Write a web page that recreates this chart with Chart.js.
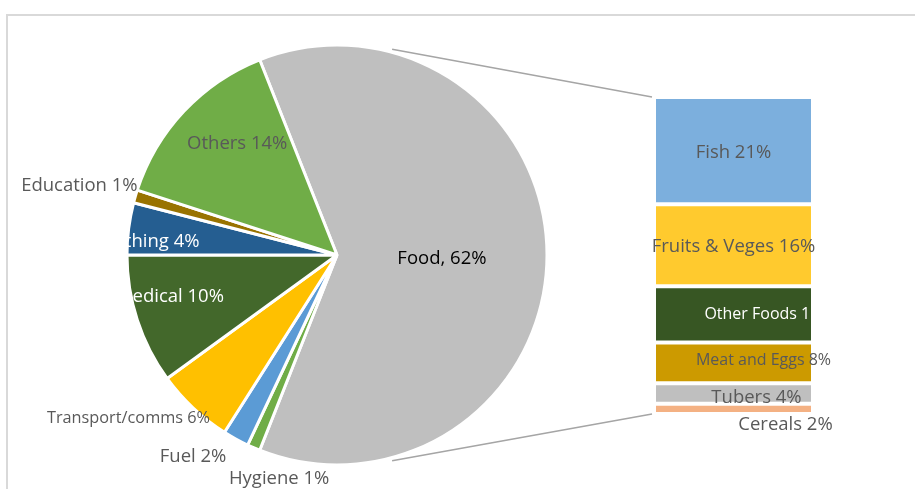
<!DOCTYPE html>
<html>
<head>
<meta charset="utf-8">
<script src="https://cdn.jsdelivr.net/npm/chart.js@4.4.1/dist/chart.umd.min.js"></script>
<style>
  html, body { margin: 0; padding: 0; background: #fff; overflow: hidden; }
  #wrap { position: relative; width: 915px; height: 489px; }
  #frame { position: absolute; left: 6px; top: 14px; width: 1000px; height: 600px; border: 2px solid #d9d9d9; box-sizing: border-box; }
  canvas { position: absolute; left: 0; top: 0; }
</style>
</head>
<body>
<div id="wrap">
  <div id="frame"></div>
  <canvas id="pieChart" width="915" height="489"></canvas>
  <canvas id="barChart" width="915" height="489"></canvas>
</div>
<script>
// pie: spending shares (%), Food first, then clockwise
const pieLabels = ["Food", "Hygiene", "Fuel", "Transport/comms", "Medical", "Clothing", "Education", "Others"];
const pieValues = [62, 1, 2, 6, 10, 4, 1, 14];
const pieColors = ["#bfbfbf", "#70ad47", "#5b9bd5", "#ffc000", "#43682b", "#255e91", "#997300", "#70ad47"];

// bar: breakdown of Food (% of total), top to bottom
const foodLabels = ["Fish", "Fruits & Veges", "Other Foods", "Meat and Eggs", "Tubers", "Cereals"];
const foodValues = [21, 16, 11, 8, 4, 2];
const foodColors = ["#7cafdd", "#ffca2e", "#375623", "#cc9a00", "#bfbfbf", "#f4b183"];

const GREY = "#595959";
const FONT = "'Open Sans', sans-serif";

// label placement for the pie: radius fraction + angle (deg, clockwise from top)
const pieLabelPos = [
  { r: 0.50, a: 91.8, color: "#000", size: 18.5, text: "Food, 62%" },
  { r: 1.10, a: 194.5, color: GREY, size: 18.5, text: "Hygiene 1%" },
  { r: 1.18, a: 215.5, color: GREY, size: 18.5, text: "Fuel 2%" },
  { r: 1.26, a: 232, color: GREY, size: 16.3, text: "Transport/comms 6%" },
  { r: 0.82, a: 256, color: "#fff", size: 18.5, text: "Medical 10%" },
  { r: 0.90, a: 274, color: "#fff", size: 18.5, text: "Clothing 4%" },
  { r: 1.27, a: 285, color: GREY, size: 18.5, text: "Education 1%" },
  { r: 0.71, a: 318, color: GREY, size: 18.5, text: "Others 14%" }
];

// bar label nudges from segment centre (px)
const barLabelPos = [
  { dx: 0, dy: 2, color: GREY, size: 18.5, text: "Fish 21%" },
  { dx: 0, dy: 1, color: GREY, size: 18.5, text: "Fruits & Veges 16%" },
  { dx: 35, dy: 0, color: "#fff", size: 16, text: "Other Foods 11%" },
  { dx: 30, dy: -2, color: GREY, size: 16, text: "Meat and Eggs 8%" },
  { dx: 23, dy: 4, color: GREY, size: 18.5, text: "Tubers 4%" },
  { dx: 52, dy: 16, color: GREY, size: 18.5, text: "Cereals 2%" }
];

const total = pieValues.reduce((a, b) => a + b, 0);
const foodShare = pieValues[0] / total;

const pieLabelPlugin = {
  id: "pieLabels",
  afterDatasetsDraw(chart) {
    const ctx = chart.ctx;
    const arc = chart.getDatasetMeta(0).data[0];
    ctx.save();
    ctx.textAlign = "center";
    ctx.textBaseline = "middle";
    pieLabelPos.forEach((p) => {
      const rad = (p.a * Math.PI) / 180;
      const x = arc.x + p.r * arc.outerRadius * Math.sin(rad);
      const y = arc.y - p.r * arc.outerRadius * Math.cos(rad);
      ctx.font = p.size + "px " + FONT;
      ctx.fillStyle = p.color;
      ctx.fillText(p.text, x, y);
    });
    ctx.restore();
  }
};

const pieChart = new Chart(document.getElementById("pieChart"), {
  type: "pie",
  data: {
    labels: pieLabels,
    datasets: [{
      data: pieValues,
      backgroundColor: pieColors,
      borderColor: "#fff",
      borderWidth: 3,
      radius: 210
    }]
  },
  options: {
    responsive: false,
    animation: false,
    rotation: 90 - foodShare * 180,
    layout: { padding: { left: 127, right: 368, top: 45, bottom: 24 } },
    plugins: { legend: { display: false }, tooltip: { enabled: false } }
  },
  plugins: [pieLabelPlugin]
});

// stack bottom-up, so reverse the top-to-bottom lists
const barDatasets = foodLabels.map((name, i) => ({
  label: name,
  data: [foodValues[i]],
  backgroundColor: foodColors[i],
  borderColor: "#fff",
  borderWidth: 2,
  borderSkipped: false,
  inflateAmount: 0,
  barPercentage: 1,
  categoryPercentage: 1
})).reverse();

const barLabelPlugin = {
  id: "barLabels",
  afterDatasetsDraw(chart) {
    const ctx = chart.ctx;
    const n = foodLabels.length;
    ctx.save();
    ctx.textAlign = "center";
    ctx.textBaseline = "middle";
    foodLabels.forEach((name, i) => {
      const el = chart.getDatasetMeta(n - 1 - i).data[0];
      const p = barLabelPos[i];
      ctx.font = p.size + "px " + FONT;
      ctx.fillStyle = p.color;
      ctx.fillText(p.text, el.x + p.dx, (el.y + el.base) / 2 + p.dy);
    });

    // connector lines from the Food slice to the bar ends
    const arc = pieChart.getDatasetMeta(0).data[0];
    const topEl = chart.getDatasetMeta(n - 1).data[0];
    const botEl = chart.getDatasetMeta(0).data[0];
    const left = topEl.x - topEl.width / 2 - 2;
    const r = arc.outerRadius + 3;
    const a = (15 * Math.PI) / 180;
    ctx.strokeStyle = "#a5a5a5";
    ctx.lineWidth = 1.5;
    ctx.beginPath();
    ctx.moveTo(arc.x + r * Math.sin(a), arc.y - r * Math.cos(a));
    ctx.lineTo(left, topEl.y);
    ctx.moveTo(arc.x + r * Math.sin(a), arc.y + r * Math.cos(a));
    ctx.lineTo(left, botEl.base);
    ctx.stroke();
    ctx.restore();
  }
};

new Chart(document.getElementById("barChart"), {
  type: "bar",
  data: { labels: ["Food"], datasets: barDatasets },
  options: {
    responsive: false,
    animation: false,
    layout: { padding: { left: 654, right: 102, top: 97, bottom: 75 } },
    scales: {
      x: { stacked: true, display: false },
      y: { stacked: true, display: false, min: 0, max: pieValues[0] }
    },
    plugins: { legend: { display: false }, tooltip: { enabled: false } }
  },
  plugins: [barLabelPlugin]
});
</script>
</body>
</html>
